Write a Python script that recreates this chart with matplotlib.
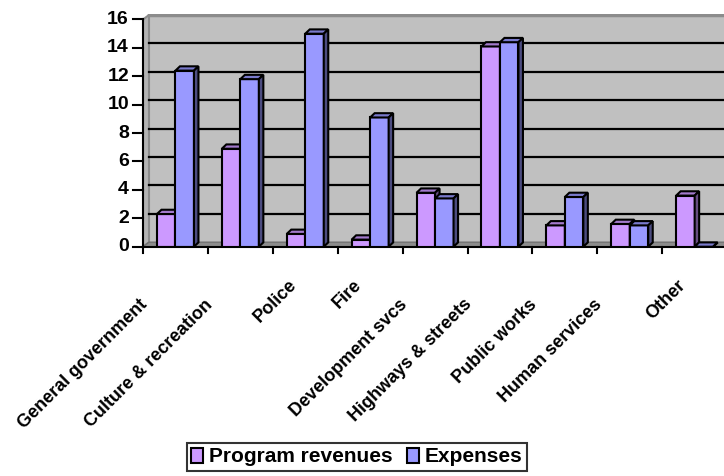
import matplotlib
matplotlib.use('Agg')
import matplotlib.pyplot as plt
from matplotlib.patches import Patch

plt.rcParams['font.family'] = ['Liberation Sans', 'DejaVu Sans']
plt.rcParams['font.weight'] = 'bold'

categories = ['General government', 'Culture & recreation', 'Police', 'Fire',
              'Development svcs', 'Highways & streets', 'Public works',
              'Human services', 'Other']
revenues = [2.3, 6.9, 0.9, 0.5, 3.8, 14.1, 1.5, 1.6, 3.6]
expenses = [12.4, 11.8, 15.0, 9.1, 3.4, 14.4, 3.5, 1.5, 0.0]
yticks = [0, 2, 4, 6, 8, 10, 12, 14, 16]

rev_colors = ('#CC99FF', '#A37ACC', '#664C80')   # front, top, side
exp_colors = ('#9999FF', '#7A7ACC', '#4C4C80')

W, H = 724, 476
px_x = 64.9      # pixels per category
px_y = 14.2      # pixels per unit
ytop = 16.4

fig = plt.figure(figsize=(W / 100, H / 100), dpi=100)
ax = fig.add_axes([143 / W, 1 - 246.7 / H, 9 * px_x / W, ytop * px_y / H])
ax.set_xlim(-0.5, 8.5)
ax.set_ylim(0, ytop)
ax.axis('off')

# wall depth and bar depth in data units
dx, dy = 6 / px_x, 4.5 / px_y
bdx, bdy = 4.5 / px_x, 4.3 / px_y
x0, x1 = -0.5, 8.6

# back wall, left wall, floor
ax.fill([x0 + dx, x1 + dx, x1 + dx, x0 + dx], [dy, dy, 16 + dy, 16 + dy],
        color='#C0C0C0', zorder=0, lw=0)
ax.plot([x0 + dx, x1 + dx], [16 + dy, 16 + dy], color='#8C8C8C', lw=2.5, zorder=1)
ax.fill([x0, x0 + dx, x0 + dx, x0], [0, dy, 16 + dy, 16],
        facecolor='#B4B4B4', edgecolor='#8C8C8C', lw=1.5, zorder=1)
ax.fill([x0, x1, x1 + dx, x0 + dx], [0, 0, dy, dy],
        facecolor='#8C8C8C', edgecolor='#707070', lw=1, zorder=1)

for v in yticks[1:-1]:
    ax.plot([x0 + dx, x1 + dx], [v + dy, v + dy], color='black', lw=1.6, zorder=1)

# axes lines and ticks
ax.plot([x0, x0], [0, 16], color='black', lw=1.5, zorder=5, clip_on=False)
ax.plot([x0, x1], [0, 0], color='black', lw=1.5, zorder=5, clip_on=False)
for v in yticks:
    ax.plot([x0 - 10 / px_x, x0], [v, v], color='black', lw=1.5, clip_on=False)
    ax.text(x0 - 14 / px_x, v, str(v), ha='right', va='center',
            fontsize=14, fontweight='bold')
for i in range(len(categories) + 1):
    ax.plot([i - 0.5, i - 0.5], [0, -6 / px_y], color='black', lw=1.5,
            clip_on=False)


def bar3d(left, width, h, colors, z):
    front, top, side = colors
    ax.fill([left, left + width, left + width, left], [0, 0, h, h],
            facecolor=front, edgecolor='black', lw=1.5, zorder=z,
            joinstyle='miter')
    ax.fill([left, left + width, left + width + bdx, left + bdx],
            [h, h, h + bdy, h + bdy],
            facecolor=top, edgecolor='black', lw=1.5, zorder=z)
    ax.fill([left + width, left + width + bdx, left + width + bdx, left + width],
            [0, bdy, h + bdy, h],
            facecolor=side, edgecolor='black', lw=1.5, zorder=z)


bw = 0.285
for i, (r, e) in enumerate(zip(revenues, expenses)):
    bar3d(i - bw, bw, r, rev_colors, 3 + 2 * i)
    bar3d(i, bw, e, exp_colors, 4 + 2 * i)

# category labels
for i, lab in enumerate(categories):
    off = 14 if len(lab) <= 6 else 0
    ax.annotate(lab, xy=(i - 0.5, 0), xycoords='data',
                xytext=(off - 3, -35.5 + off), textcoords='offset points',
                rotation=45, rotation_mode='anchor', ha='right', va='top',
                fontsize=13, fontweight='bold', annotation_clip=False)

handles = [Patch(facecolor=rev_colors[0], edgecolor='black', lw=1.5),
           Patch(facecolor=exp_colors[0], edgecolor='black', lw=1.5)]
leg = fig.legend(handles, ['Program revenues', 'Expenses'], loc='center',
                 bbox_to_anchor=(357 / W, 1 - 457 / H), ncol=2,
                 prop={'size': 15, 'weight': 'bold'}, fancybox=False,
                 handlelength=0.55, handleheight=0.75, handletextpad=0.3,
                 columnspacing=0.7, borderpad=0.2, borderaxespad=0)
leg.get_frame().set_edgecolor('black')
leg.get_frame().set_linewidth(1.5)

fig.savefig('out.png', dpi=100)
